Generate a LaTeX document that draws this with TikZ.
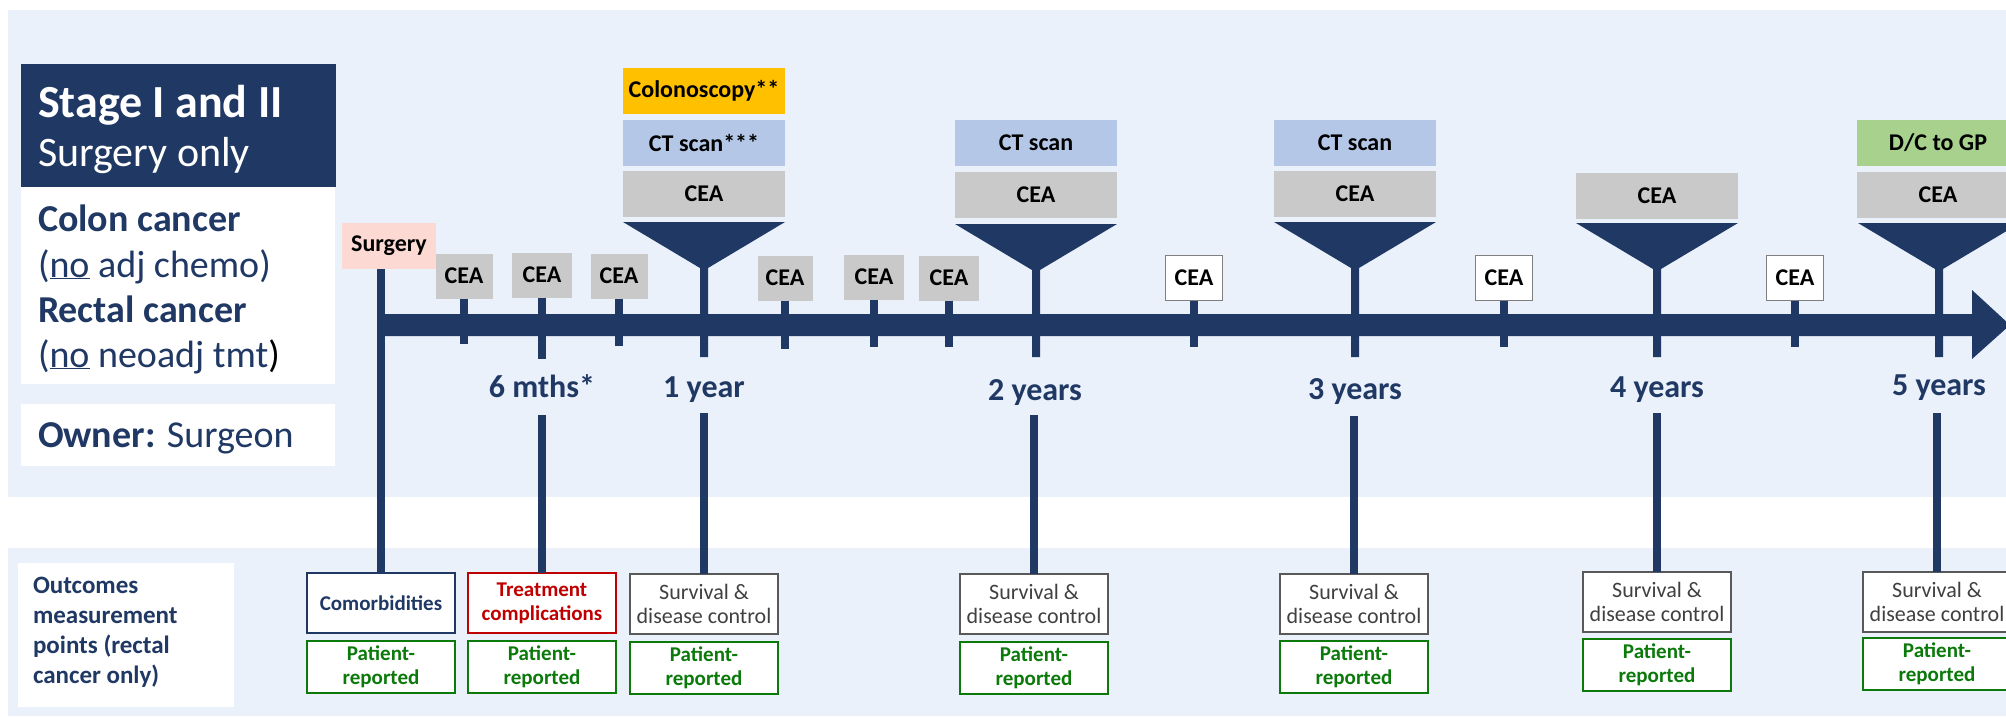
\documentclass[tikz,border=0pt]{standalone}
\usepackage{fontspec}
\setmainfont{Carlito}
\newcommand\fsz[2]{\fontsize{#1}{#2}\selectfont}
\definecolor{navy}{HTML}{203864}
\definecolor{panel}{HTML}{EAF1FA}
\definecolor{ceagray}{HTML}{C9C9C9}
\definecolor{ctblue}{HTML}{B4C7E7}
\definecolor{colorange}{HTML}{FFC000}
\definecolor{dcgreen}{HTML}{A9D18E}
\definecolor{surgpink}{HTML}{FCD9D3}
\definecolor{wgray}{HTML}{7F7F7F}
\definecolor{comnavy}{HTML}{1F3864}
\definecolor{tred}{HTML}{C00000}
\definecolor{sgray}{HTML}{595959}
\definecolor{stext}{HTML}{404040}
\definecolor{prgreen}{HTML}{0B7A0B}
\newcommand\myfunnel[2]{\fill[navy] ({#1-81},#2) -- ({#1+81},#2) -- ({#1+4},{#2+46}) -- ({#1+4},357) -- ({#1-4},357) -- ({#1-4},{#2+46}) -- cycle;}
\begin{document}
\begin{tikzpicture}[x=1pt,y=-1pt,
  every node/.style={inner sep=0pt,outer sep=0pt},
  lbl/.style={anchor=base west,text=navy},
  topbox/.style={minimum width=162pt,minimum height=46pt,font=\fsz{24}{28}\bfseries,text=black},
  ceabox/.style={topbox,fill=ceagray},
  ctbox/.style={topbox,fill=ctblue},
  colbox/.style={topbox,fill=colorange},
  dcbox/.style={topbox,fill=dcgreen},
  scea/.style={minimum width=57pt,minimum height=45pt,fill=ceagray,font=\fsz{24}{28}\bfseries},
  wcea/.style={scea,fill=white,draw=wgray,line width=1.8pt},
  tickline/.style={draw=navy,line width=8pt},
  stemline/.style={draw=navy,line width=7.5pt},
  yearlbl/.style={anchor=base,font=\fsz{32}{36}\bfseries,text=navy},
  outbox/.style={minimum width=148pt,minimum height=60pt,fill=white,line width=2pt,align=center,font=\fsz{22}{24}},
  prbox/.style={minimum width=148pt,minimum height=52pt,fill=white,draw=prgreen,text=prgreen,line width=2pt,align=center,font=\fsz{21}{24}\bfseries},
]
\useasboundingbox (0,0) rectangle (2006,716);
\clip (0,0) rectangle (2006,716);
% panels
\fill[panel] (8,10) rectangle (2006,497);
\fill[panel] (8,548) rectangle (2006,716);
% left info block
\fill[navy] (21,64) rectangle (336,187);
\fill[white] (21,187) rectangle (335,384);
\fill[white] (21,404) rectangle (335,466);
\node[lbl,text=white,font=\fsz{46}{54}\bfseries] (stage) at (38,117) {Stage I and II};
\node[lbl,text=white,font=\fsz{42}{50}] (surgonly) at (38,166) {Surgery only};
\node[lbl,font=\fsz{38}{46}\bfseries] (colon) at (38,231) {Colon cancer};
\node[lbl,font=\fsz{38}{46}] (colonsub) at (38,277) {(\underline{no} adj chemo)};
\node[lbl,font=\fsz{38}{46}\bfseries] (rectal) at (38,322) {Rectal cancer};
\node[lbl,font=\fsz{38}{46}] (rectalsub) at (38,367) {(\underline{no} neoadj tmt\textcolor{black}{)}};
\node[lbl,font=\fsz{38}{46}] (owner) at (38,447) {\textbf{Owner:} Surgeon};
% outcomes label box
\fill[white] (18,563) rectangle (234,707);
\node[lbl,font=\fsz{25}{30}\bfseries] (oc1) at (33,593) {Outcomes};
\node[lbl,font=\fsz{25}{30}\bfseries] (oc2) at (33,623) {measurement};
\node[lbl,font=\fsz{25}{30}\bfseries] (oc3) at (33,653) {points (rectal};
\node[lbl,font=\fsz{25}{30}\bfseries] (oc4) at (33,683) {cancer only)};
% lower outcome boxes
\node[outbox,draw=comnavy,text=comnavy,font=\fsz{21}{24}\bfseries] (com) at (381,603) {Comorbidities};
\node[outbox,draw=tred,text=tred,font=\fsz{21}{24}\bfseries] (trt) at (542,603) {Treatment\\complications};
\node[outbox,draw=sgray,text=stext] (sv1) at (704,604) {Survival \&\\disease control};
\node[outbox,draw=sgray,text=stext] (sv2) at (1034,604) {Survival \&\\disease control};
\node[outbox,draw=sgray,text=stext] (sv3) at (1354,604) {Survival \&\\disease control};
\node[outbox,draw=sgray,text=stext] (sv4) at (1657,602) {Survival \&\\disease control};
\node[outbox,draw=sgray,text=stext] (sv5) at (1937,602) {Survival \&\\disease control};
\node[prbox] (pr0) at (381,667) {Patient-\\reported};
\node[prbox] (pr6) at (542,667) {Patient-\\reported};
\node[prbox] (pr1) at (704,668) {Patient-\\reported};
\node[prbox] (pr2) at (1034,668) {Patient-\\reported};
\node[prbox] (pr3) at (1354,667) {Patient-\\reported};
\node[prbox] (pr4) at (1657,665) {Patient-\\reported};
\node[prbox] (pr5) at (1937,664) {Patient-\\reported};
% surgery
\node[fill=surgpink,minimum width=94pt,minimum height=46pt,font=\fsz{24}{28}\bfseries] (surg) at (389,246) {Surgery};
\draw[stemline] (surg.south -| com.north) -- (com.north);
% main axis
\coordinate (axstart) at (380,325);
\fill[navy] (axstart) ++(0,-11) -- (1972,314) -- (1972,290) -- (2010,325) -- (1972,359) -- (1972,336) -- (380,336) -- cycle;
% small CEA boxes and ticks
\node[scea] (c1) at (464,276) {CEA};
\node[scea,minimum width=60pt] (c2) at (542,275) {CEA};
\node[scea] (c3) at (619,276) {CEA};
\node[scea,minimum width=55pt] (c4) at (785,278) {CEA};
\node[scea,minimum width=60pt] (c5) at (874,277) {CEA};
\node[scea,minimum width=60pt] (c6) at (949,278) {CEA};
\node[wcea] (w1) at (1194,278) {CEA};
\node[wcea] (w2) at (1504,278) {CEA};
\node[wcea] (w3) at (1795,278) {CEA};
\draw[tickline] (c1.south) -- ++(0,45);
\draw[tickline] (c2.south) -- ++(0,61);
\draw[tickline] (c3.south) -- ++(0,47);
\draw[tickline] (c4.south) -- ++(0,48);
\draw[tickline] (c5.south) -- ++(0,47);
\draw[tickline] (c6.south) -- ++(0,46);
\draw[tickline] (w1.south) -- ++(0,46);
\draw[tickline] (w2.south) -- ++(0,46);
\draw[tickline] (w3.south) -- ++(0,46);
% 1 year stack
\node[colbox] (col1) at (704,91) {Colonoscopy**};
\node[ctbox] (ct1) at (704,143) {CT scan***};
\node[ceabox] (ce1) at (704,194) {CEA};
\myfunnel{704}{222}
% 2 years
\node[ctbox] (ct2) at (1036,143) {CT scan};
\node[ceabox] (ce2) at (1036,195) {CEA};
\myfunnel{1036}{224}
% 3 years
\node[ctbox] (ct3) at (1355,143) {CT scan};
\node[ceabox] (ce3) at (1355,194) {CEA};
\myfunnel{1355}{222}
% 4 years
\node[ceabox] (ce4) at (1657,196) {CEA};
\myfunnel{1657}{223}
% 5 years
\node[dcbox] (dc5) at (1938,143) {D/C to GP};
\node[ceabox] (ce5) at (1938,195) {CEA};
\myfunnel{1939}{223}
% year labels
\node[yearlbl] (t6m) at (542,397) {6 mths*};
\node[yearlbl] (t1) at (704,397) {1 year};
\node[yearlbl] (t2) at (1035,400) {2 years};
\node[yearlbl] (t3) at (1355,399) {3 years};
\node[yearlbl] (t4) at (1657,397) {4 years};
\node[yearlbl] (t5) at (1939,395) {5 years};
% lower stems
\draw[stemline] (trt.north |- 0,415) -- (trt.north);
\draw[stemline] (sv1.north |- 0,413) -- (sv1.north);
\draw[stemline] (sv2.north |- 0,415) -- (sv2.north);
\draw[stemline] (sv3.north |- 0,416) -- (sv3.north);
\draw[stemline] (sv4.north |- 0,413) -- (sv4.north);
\draw[stemline] (sv5.north |- 0,413) -- (sv5.north);
\end{tikzpicture}
\end{document}
